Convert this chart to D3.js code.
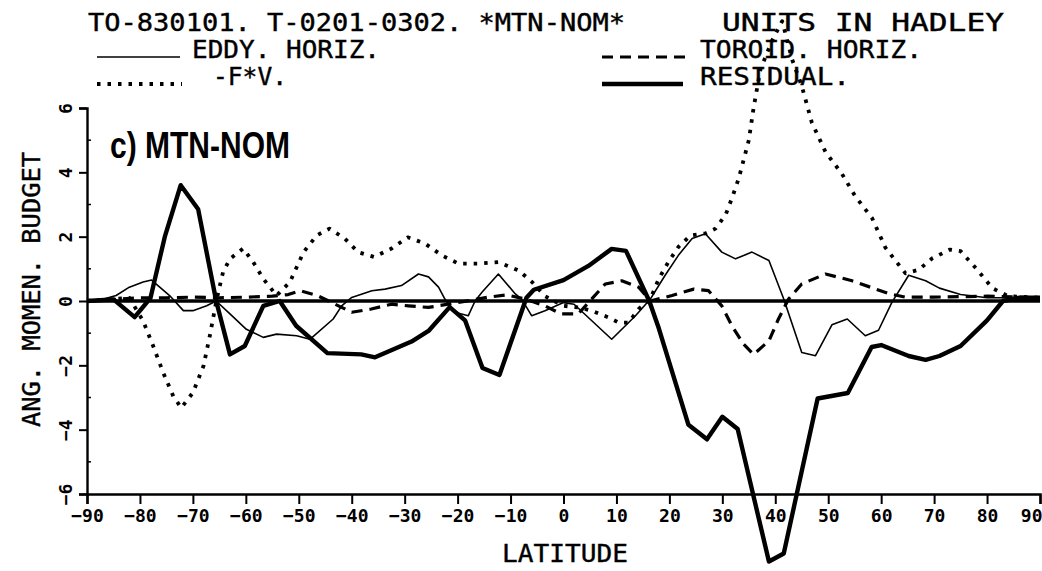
<!DOCTYPE html>
<html>
<head>
<meta charset="utf-8">
<script src="https://cdn.jsdelivr.net/npm/d3@7"></script>
<style>
  html, body { margin: 0; padding: 0; background: #fff; overflow: hidden; }
  svg { display: block; }
</style>
</head>
<body>
<svg id="chart" width="1042" height="571"></svg>
<script>
// ── data ([latitude, value]) ────────────────────────────────────────────────

const LAT_TICKS    = [-90, -80, -70, -60, -50, -40, -30, -20, -10, 0, 10, 20, 30, 40, 50, 60, 70, 80, 90];
const BUDGET_TICKS = [-6, -4, -2, 0, 2, 4, 6];
const BUDGET_MINOR = [-5, -3, -1, 1, 3, 5];

const EDDY_HORIZ = [
  [-90, 0], [-87, 0.05], [-84.5, 0.17], [-82, 0.43], [-79.4, 0.59], [-77.8, 0.65], [-74.4, 0.17],
  [-71.8, -0.3], [-70, -0.3], [-67.4, -0.15], [-65.6, 0], [-63, -0.4], [-59.9, -0.88], [-56.7, -1.13],
  [-54.2, -1.03], [-50.4, -1.08], [-47.9, -1.19], [-43.5, -0.56], [-41.9, -0.15], [-40, 0.11],
  [-36.2, 0.32], [-33.7, 0.37], [-30.6, 0.48], [-27.4, 0.84], [-25.5, 0.75], [-23.6, 0.43],
  [-22.4, 0.06], [-20.5, -0.35], [-18, -0.46], [-16.7, 0], [-15.4, 0.27], [-12.3, 0.84], [-9.1, 0.22],
  [-7.9, 0.06], [-6, -0.46], [-3.5, -0.3], [0, -0.05], [2, -0.1], [9.1, -1.19], [13.6, -0.46],
  [16.4, 0.06], [19.2, 0.8], [21.7, 1.42], [24.3, 1.94], [26.8, 2.09], [29.9, 1.52], [32.5, 1.31],
  [35.6, 1.52], [38.8, 1.26], [41.6, 0.06], [45, -1.6], [47.6, -1.7], [50.7, -0.74], [53.6, -0.56],
  [57, -1.08], [59.5, -0.91], [62, -0.05], [65.2, 0.8], [68.4, 0.63], [71, 0.4], [75, 0.2],
  [80, 0.1], [85, 0.1], [90, 0.1]
];

const TOROID_HORIZ = [
  [-90, 0], [-85, 0.05], [-80, 0.1], [-75, 0.1], [-70, 0.12], [-65, 0.1], [-60, 0.12], [-55, 0.15],
  [-52, 0.2], [-49.8, 0.32], [-46.5, 0.17], [-42.5, -0.15], [-40, -0.35], [-36.3, -0.25],
  [-32.5, -0.1], [-29.3, -0.15], [-25.5, -0.2], [-20, -0.05], [-14.2, 0.12], [-10.7, 0.19],
  [-7.2, 0.06], [-3.5, -0.15], [-0.5, -0.4], [2.8, -0.4], [5.3, 0.06], [7.9, 0.53], [11, 0.63],
  [14.2, 0.43], [16.4, 0], [20.5, 0.17], [24.6, 0.37], [27.4, 0.32], [29.9, -0.15], [31.8, -0.77],
  [34, -1.34], [35.9, -1.66], [38.8, -1.24], [40.6, -0.56], [42.5, 0.06], [45, 0.53], [49.5, 0.84],
  [54.5, 0.63], [61.4, 0.23], [64.6, 0.12], [70, 0.12], [80, 0.15], [90, 0.1]
];

const MINUS_FV = [
  [-90, 0], [-86, 0.05], [-82, 0.1], [-79.4, -0.62], [-77.5, -1.4], [-75.6, -2.23], [-73.7, -2.96],
  [-72.2, -3.32], [-70, -2.85], [-68, -2.02], [-66.8, -1.08], [-65.5, 0.06], [-64.3, 0.9], [-63, 1.31],
  [-60.5, 1.63], [-58.6, 1.21], [-56.7, 0.69], [-54.2, 0.17], [-51.7, 0.58], [-49.1, 1.52],
  [-46.6, 2.04], [-44.2, 2.25], [-41.3, 1.94], [-38.8, 1.52], [-35.8, 1.37], [-32.5, 1.63],
  [-29.4, 1.98], [-26.1, 1.78], [-23, 1.42], [-19.8, 1.16], [-16.1, 1.16], [-12.3, 1.21], [-8.5, 0.95],
  [-6, 0.6], [-3.5, 0.15], [0, -0.15], [2.8, -0.2], [5.3, -0.3], [8.5, -0.51], [10.4, -0.67],
  [12.3, -0.67], [14.2, -0.25], [16.4, 0.06], [18, 0.69], [19.8, 1.21], [21.7, 1.68], [24, 2.04],
  [26.8, 2.1], [28.7, 2.25], [30.6, 2.67], [31.8, 3.19], [33.1, 3.81], [35, 5.0], [35.9, 6.0],
  [37.2, 7.2], [39.4, 8.1], [41.3, 8.7], [43.2, 7.5], [45, 6.69], [46.9, 5.55], [49.5, 4.63],
  [52.6, 3.95], [55.1, 3.26], [58.3, 2.57], [60.8, 1.66], [62.5, 1.3], [64.6, 0.86], [67.1, 0.97],
  [69.6, 1.32], [73, 1.6], [75, 1.55], [78, 1.0], [81, 0.4], [84, 0.15], [90, 0.1]
];

const RESIDUAL = [
  [-90, 0], [-85, 0.05], [-81, -0.5], [-78, 0.1], [-75.3, 2.0], [-72.3, 3.6], [-69, 2.85],
  [-65.6, 0], [-63, -1.66], [-60.2, -1.4], [-56.7, -0.15], [-53.6, 0], [-50.5, -0.77], [-44.6, -1.62],
  [-38.2, -1.66], [-35.6, -1.75], [-28.7, -1.26], [-25.5, -0.93], [-21.5, -0.19], [-18.6, -0.6],
  [-15.3, -2.08], [-12.1, -2.3], [-7, 0.1], [-5.6, 0.35], [0, 0.65], [4.7, 1.09], [9.1, 1.62],
  [11.8, 1.56], [16.2, 0], [18, -0.85], [23.6, -3.85], [27.1, -4.3], [30, -3.6], [32.9, -3.98],
  [38.8, -8.1], [41.6, -7.85], [48, -3.03], [53.7, -2.86], [58.2, -1.43], [60, -1.37], [65.2, -1.71],
  [68.4, -1.83], [71, -1.71], [75, -1.4], [80, -0.6], [83, 0], [86, 0.1], [90, 0.1]
];

// ── layout ──────────────────────────────────────────────────────────────────

const MONO = "'DejaVu Sans Mono', monospace";
const svg  = d3.select('#chart');

const x = d3.scaleLinear().domain([-90, 90]).range([87, 1040]);
const y = d3.scaleLinear().domain([-6, 6]).range([494, 108]);

const line = d3.line().x(d => x(d[0])).y(d => y(d[1]));

// line styles per series
const STYLES = {
  eddy:     { width: 1.6, dash: null },
  toroid:   { width: 3.2, dash: '11 7' },
  fv:       { width: 3.8, dash: '3.5 7' },
  residual: { width: 4.4, dash: null },
};

function styled(sel, st) {
  return sel.attr('fill', 'none')
    .attr('stroke', '#000')
    .attr('stroke-width', st.width)
    .attr('stroke-dasharray', st.dash)
    .attr('stroke-linejoin', 'round');
}

// ── header and legend ──────────────────────────────────────────────────────

function plotText(str, tx, ty, len, size = 24) {
  svg.append('text')
    .attr('x', tx).attr('y', ty)
    .attr('font-family', MONO)
    .attr('font-size', size)
    .attr('textLength', len)
    .attr('lengthAdjust', 'spacingAndGlyphs')
    .attr('fill', '#000')
    .attr('stroke', '#000').attr('stroke-width', 0.4)
    .text(str);
}

plotText('TO-830101. T-0201-0302. *MTN-NOM*', 88, 31, 537);
plotText('UNITS IN HADLEY', 722, 31, 282);
plotText('EDDY. HORIZ.', 192, 58, 188);
plotText('-F*V.', 213, 85, 74);
plotText('TOROID. HORIZ.', 700, 58, 222);
plotText('RESIDUAL.', 700, 85, 150);

const LEGEND = [
  { st: STYLES.eddy,     x0: 97,  x1: 180, yy: 57 },
  { st: STYLES.fv,       x0: 97,  x1: 182, yy: 84 },
  { st: STYLES.toroid,   x0: 602, x1: 690, yy: 57 },
  { st: STYLES.residual, x0: 602, x1: 683, yy: 84 },
];
LEGEND.forEach(l => {
  styled(svg.append('line'), l.st)
    .attr('x1', l.x0).attr('x2', l.x1)
    .attr('y1', l.yy).attr('y2', l.yy);
});

// panel tag
svg.append('text')
  .attr('x', 110).attr('y', 158)
  .attr('font-family', "'Liberation Sans', Arial, sans-serif")
  .attr('font-weight', 'bold')
  .attr('font-size', 36)
  .attr('textLength', 180)
  .attr('lengthAdjust', 'spacingAndGlyphs')
  .text('c) MTN-NOM');

// ── zero line and series ───────────────────────────────────────────────────

svg.append('line')
  .attr('x1', x(-90)).attr('x2', x(90))
  .attr('y1', y(0)).attr('y2', y(0))
  .attr('stroke', '#000').attr('stroke-width', 3.5);

const SERIES = [
  { data: EDDY_HORIZ,   st: STYLES.eddy },
  { data: TOROID_HORIZ, st: STYLES.toroid },
  { data: MINUS_FV,     st: STYLES.fv },
  { data: RESIDUAL,     st: STYLES.residual },
];
SERIES.forEach(s => {
  styled(svg.append('path').datum(s.data).attr('d', line), s.st);
});

// ── axes ───────────────────────────────────────────────────────────────────

const xAxis = svg.append('g')
  .attr('transform', `translate(0,${y(-6)})`)
  .call(d3.axisBottom(x).tickValues(LAT_TICKS).tickSize(10).tickPadding(5).tickFormat(d3.format('d')));

const yAxis = svg.append('g')
  .attr('transform', `translate(${x(-90)},0)`)
  .call(d3.axisLeft(y).tickValues(BUDGET_TICKS).tickSize(8).tickFormat(d3.format('d')));

[xAxis, yAxis].forEach(g => {
  g.select('.domain').attr('stroke', '#000').attr('stroke-width', 2.4);
  g.selectAll('.tick line').attr('stroke', '#000').attr('stroke-width', 2);
  g.selectAll('.tick text')
    .attr('fill', '#000')
    .attr('font-family', MONO)
    .attr('font-weight', 'bold')
    .attr('font-size', 18);
});

// last latitude label would run off the page edge
xAxis.selectAll('.tick text')
  .filter(d => d === 90)
  .attr('text-anchor', 'end')
  .attr('x', 2);

// y tick labels sit sideways like the plotter output
yAxis.selectAll('.tick text')
  .attr('x', null).attr('dy', '0.35em')
  .attr('text-anchor', 'middle')
  .attr('transform', 'translate(-21,0) rotate(-90)');

// short inner ticks at odd values
yAxis.selectAll('.minor')
  .data(BUDGET_MINOR)
  .join('line')
  .attr('class', 'minor')
  .attr('x1', 0).attr('x2', 4)
  .attr('y1', d => y(d)).attr('y2', d => y(d))
  .attr('stroke', '#000').attr('stroke-width', 1.5);

// axis titles
svg.append('text')
  .attr('x', 502).attr('y', 562)
  .attr('font-family', MONO)
  .attr('font-size', 25)
  .attr('textLength', 126)
  .attr('lengthAdjust', 'spacingAndGlyphs')
  .attr('stroke', '#000').attr('stroke-width', 0.4)
  .text('LATITUDE');

svg.append('text')
  .attr('transform', 'translate(40,427) rotate(-90)')
  .attr('font-family', MONO)
  .attr('font-size', 24)
  .attr('textLength', 275)
  .attr('lengthAdjust', 'spacingAndGlyphs')
  .attr('stroke', '#000').attr('stroke-width', 0.4)
  .text('ANG. MOMEN. BUDGET');
</script>
</body>
</html>
